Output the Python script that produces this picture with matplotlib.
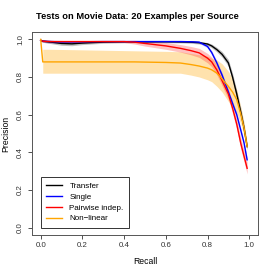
import numpy as np
import matplotlib
matplotlib.use('Agg')
import matplotlib.pyplot as plt

plt.rcParams['font.family'] = ['Liberation Sans', 'DejaVu Sans']

# recall grid shared by all curves
recall = [0.0, 0.01, 0.05, 0.1, 0.15, 0.2, 0.3, 0.4, 0.45, 0.5, 0.6, 0.67, 0.72,
          0.76, 0.8, 0.82, 0.845, 0.87, 0.9, 0.92, 0.94, 0.96, 0.975, 0.99]

# precision values
transfer = [0.995, 0.99, 0.985, 0.978, 0.976, 0.98, 0.985, 0.987, 0.987, 0.987, 0.987, 0.986, 0.985,
            0.982, 0.975, 0.965, 0.945, 0.92, 0.875, 0.80, 0.71, 0.61, 0.53, 0.43]
transfer_sd = [0.004, 0.006, 0.008, 0.01, 0.01, 0.008, 0.006, 0.005, 0.005, 0.005, 0.005, 0.005, 0.006,
               0.007, 0.008, 0.01, 0.012, 0.015, 0.018, 0.02, 0.02, 0.02, 0.018, 0.015]
single = [0.995, 0.99, 0.988, 0.986, 0.986, 0.987, 0.988, 0.988, 0.988, 0.988, 0.988, 0.988, 0.987,
          0.985, 0.962, 0.93, 0.874, 0.81, 0.72, 0.66, 0.60, 0.515, 0.45, 0.36]
single_sd = [0.004, 0.006, 0.008, 0.008, 0.006, 0.005, 0.004, 0.004, 0.004, 0.004, 0.004, 0.004, 0.005,
             0.006, 0.008, 0.01, 0.012, 0.012, 0.012, 0.012, 0.012, 0.012, 0.012, 0.012]
pairwise = [0.995, 0.99, 0.988, 0.988, 0.988, 0.988, 0.988, 0.988, 0.985, 0.978, 0.965, 0.952, 0.94,
            0.928, 0.90, 0.88, 0.837, 0.78, 0.71, 0.635, 0.55, 0.445, 0.38, 0.315]
pairwise_sd = [0.004, 0.006, 0.006, 0.005, 0.005, 0.005, 0.005, 0.006, 0.01, 0.014, 0.018, 0.02, 0.022,
               0.024, 0.025, 0.025, 0.026, 0.027, 0.028, 0.028, 0.028, 0.03, 0.03, 0.03]
nonlinear = [1.0, 0.88, 0.88, 0.88, 0.88, 0.88, 0.88, 0.88, 0.88, 0.879, 0.877, 0.874, 0.866,
             0.858, 0.847, 0.838, 0.82, 0.79, 0.75, 0.72, 0.68, 0.60, 0.53, 0.43]
nonlinear_lo = [1.0, 0.82, 0.82, 0.82, 0.82, 0.82, 0.82, 0.82, 0.82, 0.82, 0.82, 0.82, 0.81,
                0.80, 0.785, 0.775, 0.75, 0.72, 0.67, 0.64, 0.61, 0.55, 0.49, 0.41]
nonlinear_hi = [1.0, 0.947, 0.947, 0.946, 0.945, 0.944, 0.942, 0.94, 0.939, 0.938, 0.936, 0.934, 0.925,
                0.918, 0.91, 0.90, 0.89, 0.87, 0.83, 0.79, 0.73, 0.64, 0.56, 0.45]

labels = ["Transfer", "Single", "Pairwise indep.", "Non\u2212linear"]
colors = ["black", "#0000FF", "#FF0000", "#FFA500"]

r = np.array(recall)
fig = plt.figure(figsize=(2.74, 2.74), dpi=100)
ax = fig.add_axes([0.118, 0.142, 0.822, 0.742])

# bands first
ax.fill_between(r[1:], nonlinear_lo[1:], nonlinear_hi[1:], color=(1, 0.65, 0, 0.32), lw=0)
for vals, sd, c in [(transfer, transfer_sd, (0.4, 0.4, 0.4, 0.4)),
                    (single, single_sd, (0.3, 0.3, 1, 0.3)),
                    (pairwise, pairwise_sd, (1, 0.2, 0.2, 0.3))]:
    v = np.array(vals)
    s = np.array(sd)
    ax.fill_between(r, v - s, v + s, color=c, lw=0)

lines = []
for vals, c in zip([transfer, single, pairwise, nonlinear], colors):
    ln, = ax.plot(r, vals, color=c, lw=1.0)
    lines.append(ln)

ax.set_xlim(-0.04, 1.04)
ax.set_ylim(-0.04, 1.04)
ticks = [0.0, 0.2, 0.4, 0.6, 0.8, 1.0]
ax.set_xticks(ticks)
ax.set_yticks(ticks)
ax.set_xticklabels(["%.1f" % t for t in ticks])
ax.set_yticklabels(["%.1f" % t for t in ticks], rotation=90, va='center')
ax.tick_params(direction='out', length=3, width=0.6, colors='#333333', labelsize=5.7, pad=2)
ax.tick_params(axis='y', pad=3)
for sp in ax.spines.values():
    sp.set_color('#555555')
    sp.set_linewidth(0.7)

ax.set_xlabel("Recall", fontsize=6.2, labelpad=6)
ax.set_ylabel("Precision", fontsize=6.2, labelpad=5)
fig.suptitle("Tests on Movie Data: 20 Examples per Source", fontsize=6.7,
             fontweight='bold', y=0.958)

leg = ax.legend(lines, labels, loc='lower left', bbox_to_anchor=(0.0, 0.0),
                bbox_transform=ax.transData, borderaxespad=0, fontsize=5.8,
                fancybox=False, framealpha=1, edgecolor='#333333',
                handlelength=2.0, handletextpad=0.9, labelspacing=0.38,
                borderpad=0.65)
leg.get_frame().set_linewidth(0.7)

fig.savefig("out.png", dpi=100)
